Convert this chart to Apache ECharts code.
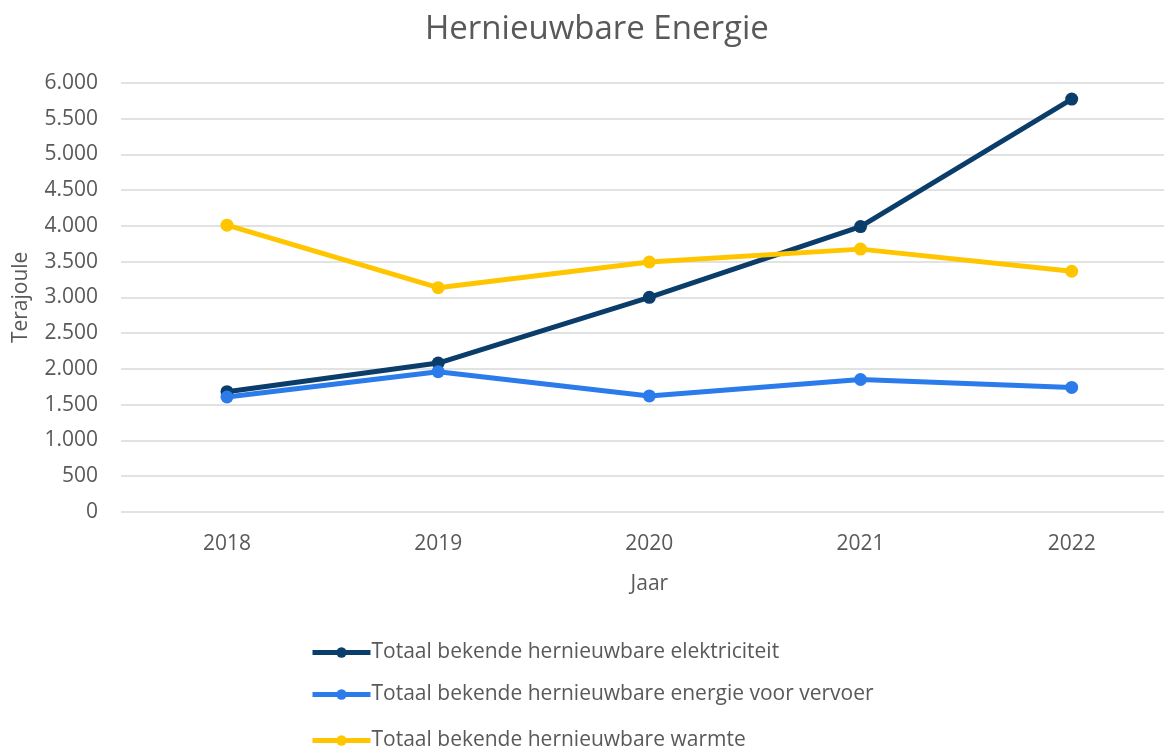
<!DOCTYPE html>
<html>
<head>
<meta charset="utf-8">
<script src="https://cdn.jsdelivr.net/npm/echarts@6/dist/echarts.min.js"></script>
<style>
html,body{margin:0;padding:0;background:#fff;}
#chart{width:1164px;height:751px;}
</style>
</head>
<body>
<div id="chart"></div>
<script>
const years = ['2018', '2019', '2020', '2021', '2022'];
const elektriciteit = [1680, 2080, 3000, 3990, 5775];
const vervoer = [1605, 1960, 1620, 1850, 1740];
const warmte = [4010, 3135, 3495, 3675, 3365];
const seriesNames = [
  'Totaal bekende hernieuwbare elektriciteit',
  'Totaal bekende hernieuwbare energie voor vervoer',
  'Totaal bekende hernieuwbare warmte'
];
const colors = ['#0B3D6B', '#2C7BEB', '#FFC600'];
const txt = '#595959';
const font = 'Open Sans';

const chart = echarts.init(document.getElementById('chart'), null, {renderer: 'canvas'});
const mk = (name, data, color) => ({
  name: name,
  type: 'line',
  xAxisIndex: 1,
  yAxisIndex: 1,
  data: data,
  symbol: 'circle',
  symbolSize: 13,
  lineStyle: {width: 5, color: color},
  itemStyle: {color: color},
  emphasis: {disabled: true},
  animation: false
});
const mkLegend = (name, top) => ({
  orient: 'vertical',
  left: 305,
  top: top,
  itemWidth: 58,
  itemHeight: 13,
  lineStyle: {width: 5},
  textStyle: {fontFamily: font, fontSize: 21, color: txt, padding: [0,0,0,-4]},
  data: [name]
});
const ytop = 83, yh = 428.7;
chart.setOption({
  animation: false,
  color: colors,
  title: {
    text: 'Hernieuwbare Energie',
    left: 420,
    top: 8,
    textStyle: {fontFamily: font, fontSize: 33, fontWeight: 'normal', color: txt}
  },
  grid: [
    {left: 121, top: ytop, right: 0, height: yh, containLabel: false},
    {left: 227, top: ytop, width: 844.7, height: yh, containLabel: false}
  ],
  xAxis: [
    {gridIndex: 0, type: 'category', data: years, show: false},
    {
      gridIndex: 1,
      type: 'category',
      data: years,
      boundaryGap: false,
      name: 'Jaar',
      nameLocation: 'middle',
      nameGap: 62,
      nameTextStyle: {fontFamily: font, fontSize: 21, color: txt},
      axisLine: {show: false},
      axisTick: {show: false},
      splitLine: {show: false},
      axisLabel: {fontFamily: font, fontSize: 21, color: txt, margin: 22}
    }
  ],
  yAxis: [
    {
      gridIndex: 0,
      type: 'value',
      min: 0,
      max: 6000,
      interval: 500,
      name: 'Terajoule',
      nameLocation: 'middle',
      nameGap: 89,
      nameTextStyle: {fontFamily: font, fontSize: 21, color: txt},
      axisLine: {show: false},
      axisTick: {show: false},
      splitLine: {lineStyle: {color: '#D9D9D9', width: 1.5}},
      axisLabel: {
        fontFamily: font, fontSize: 21, color: txt, margin: 23,
        formatter: v => v.toString().replace(/\B(?=(\d{3})+(?!\d))/g, '.')
      }
    },
    {
      gridIndex: 1,
      type: 'value',
      min: 0,
      max: 6000,
      interval: 500,
      show: false,
      splitLine: {show: false}
    }
  ],
  legend: [
    mkLegend(seriesNames[0], 637),
    mkLegend(seriesNames[1], 679),
    mkLegend(seriesNames[2], 725)
  ],
  series: [
    mk(seriesNames[0], elektriciteit, colors[0]),
    mk(seriesNames[1], vervoer, colors[1]),
    mk(seriesNames[2], warmte, colors[2])
  ]
});
</script>
</body>
</html>
